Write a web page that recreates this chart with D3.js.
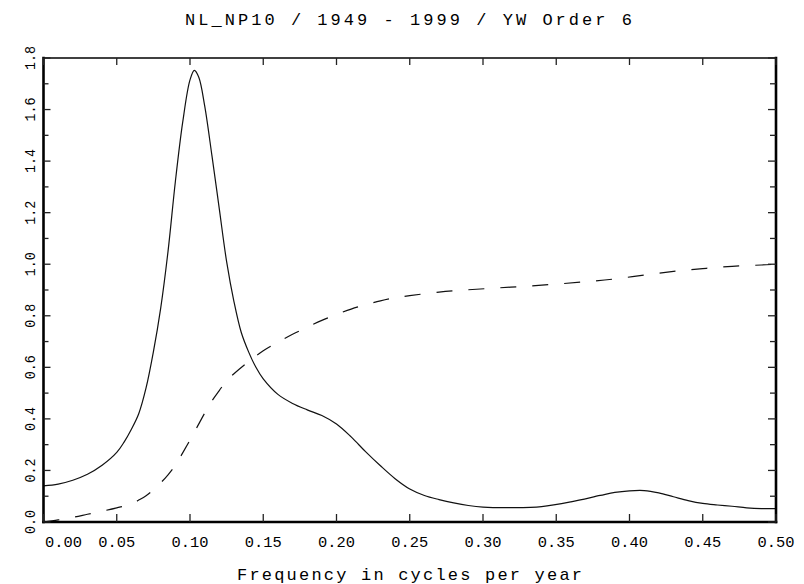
<!DOCTYPE html>
<html>
<head>
<meta charset="utf-8">
<script src="https://cdn.jsdelivr.net/npm/d3@7"></script>
<style>
  body { margin: 0; background: #fff; }
  text { font-family: "Liberation Mono", "DejaVu Sans Mono", monospace; fill: #000; }
</style>
</head>
<body>
<div id="chart"></div>
<script>
// ----------------------------------------------------------------------------
// data
// ----------------------------------------------------------------------------
const freq = [0.000, 0.010, 0.020, 0.030, 0.040, 0.050, 0.055, 0.060, 0.065, 0.070,
  0.075, 0.080, 0.085, 0.090, 0.095, 0.100, 0.103, 0.106, 0.110, 0.115,
  0.120, 0.125, 0.130, 0.135, 0.140, 0.145, 0.150, 0.160, 0.170, 0.180,
  0.190, 0.200, 0.210, 0.220, 0.230, 0.240, 0.250, 0.260, 0.270, 0.280,
  0.290, 0.300, 0.320, 0.340, 0.360, 0.380, 0.390, 0.400, 0.410, 0.420, 0.430,
  0.440, 0.450, 0.460, 0.470, 0.480, 0.490, 0.500];
const spectrum = [0.140, 0.147, 0.162, 0.185, 0.220, 0.270, 0.310, 0.360, 0.420, 0.520,
  0.660, 0.830, 1.050, 1.320, 1.550, 1.715, 1.752, 1.725, 1.615, 1.420,
  1.215, 1.010, 0.855, 0.735, 0.660, 0.600, 0.555, 0.495, 0.460, 0.435,
  0.413, 0.380, 0.330, 0.272, 0.218, 0.168, 0.128, 0.103, 0.087, 0.074,
  0.064, 0.058, 0.056, 0.060, 0.078, 0.103, 0.115, 0.121, 0.122, 0.113, 0.098,
  0.083, 0.072, 0.066, 0.061, 0.055, 0.052, 0.052];

const cumFreq = [0.000, 0.010, 0.020, 0.030, 0.040, 0.050, 0.060, 0.065, 0.070, 0.075, 0.080,
  0.085, 0.090, 0.095, 0.100, 0.105, 0.110, 0.115, 0.120, 0.125, 0.130,
  0.140, 0.150, 0.160, 0.170, 0.180, 0.190, 0.200, 0.210, 0.220, 0.230,
  0.240, 0.250, 0.270, 0.290, 0.310, 0.330, 0.350, 0.370, 0.390, 0.410,
  0.430, 0.450, 0.470, 0.490, 0.500];
const cumulative = [0.000, 0.008, 0.018, 0.030, 0.042, 0.055, 0.070, 0.085, 0.102, 0.125, 0.152,
  0.183, 0.220, 0.268, 0.318, 0.370, 0.422, 0.470, 0.510, 0.548, 0.575,
  0.622, 0.664, 0.697, 0.728, 0.756, 0.782, 0.805, 0.826, 0.843, 0.858,
  0.870, 0.878, 0.892, 0.901, 0.908, 0.915, 0.923, 0.932, 0.943, 0.958,
  0.972, 0.983, 0.992, 0.997, 1.000];

const xTicks = [0.00, 0.05, 0.10, 0.15, 0.20, 0.25, 0.30, 0.35, 0.40, 0.45, 0.50];
const yTicks = [0.0, 0.2, 0.4, 0.6, 0.8, 1.0, 1.2, 1.4, 1.6, 1.8];
const yMinor = [0.1, 0.3, 0.5, 0.7, 0.9, 1.1, 1.3, 1.5, 1.7];

const title = 'NL_NP10 / 1949 - 1999 / YW Order 6';
const xTitle = 'Frequency in cycles per year';

// ----------------------------------------------------------------------------
// svg + scales
// ----------------------------------------------------------------------------
const W = 804, H = 584;
const m = {l: 43.5, r: 28, t: 58, b: 62};

const svg = d3.select('#chart').append('svg')
  .attr('width', W).attr('height', H);

const xScale = d3.scaleLinear().domain([0, 0.5]).range([m.l, W - m.r]);
const yScale = d3.scaleLinear().domain([0, 1.8]).range([H - m.b, m.t]);

// title
svg.append('text')
  .attr('x', 408.5).attr('y', 25)
  .attr('text-anchor', 'middle')
  .style('font-size', '17px')
  .attr('textLength', 447).attr('lengthAdjust', 'spacing')
  .text(title);

// ----------------------------------------------------------------------------
// curves
// ----------------------------------------------------------------------------
const line = d3.line()
  .x(d => xScale(d[0]))
  .y(d => yScale(d[1]))
  .curve(d3.curveCatmullRom);

svg.append('path')
  .attr('d', line(freq.map((f, i) => [f, spectrum[i]])))
  .attr('fill', 'none')
  .attr('stroke', '#111')
  .attr('stroke-width', 1.2);

svg.append('path')
  .attr('d', line(cumFreq.map((f, i) => [f, cumulative[i]])))
  .attr('fill', 'none')
  .attr('stroke', '#111')
  .attr('stroke-width', 1.2)
  .attr('stroke-dasharray', '16,16');

// ----------------------------------------------------------------------------
// frame and ticks
// ----------------------------------------------------------------------------
const x0 = xScale(0), x1 = xScale(0.5), y0 = yScale(0), y1 = yScale(1.8);

// top (thin)
svg.append('line').attr('x1', x0).attr('x2', x1).attr('y1', y1).attr('y2', y1)
  .attr('stroke', '#000').attr('stroke-width', 1.5);
// left, bottom, right (thick)
[[x0, y0, x0, y1], [x0, y0, x1, y0], [x1, y0, x1, y1]].forEach(s => {
  svg.append('line')
    .attr('x1', s[0]).attr('y1', s[1]).attr('x2', s[2]).attr('y2', s[3])
    .attr('stroke', '#000').attr('stroke-width', 2.6)
    .attr('stroke-linecap', 'square');
});

const tickG = svg.append('g').attr('stroke', '#222').attr('stroke-width', 1.3);

xTicks.forEach(t => {
  const x = xScale(t);
  tickG.append('line').attr('x1', x).attr('x2', x).attr('y1', y0).attr('y2', y0 - 8);
  tickG.append('line').attr('x1', x).attr('x2', x).attr('y1', y1).attr('y2', y1 + 7);
});

yTicks.forEach(t => {
  const y = yScale(t);
  tickG.append('line').attr('x1', x0).attr('x2', x0 + 7).attr('y1', y).attr('y2', y);
  tickG.append('line').attr('x1', x1).attr('x2', x1 - 8).attr('y1', y).attr('y2', y);
});
yMinor.forEach(t => {
  const y = yScale(t);
  tickG.append('line').attr('x1', x0).attr('x2', x0 + 5).attr('y1', y).attr('y2', y);
  tickG.append('line').attr('x1', x1).attr('x2', x1 - 6).attr('y1', y).attr('y2', y);
});

// tick labels
xTicks.forEach((t, i) => {
  svg.append('text')
    .attr('x', i == 0 ? x0 + 1.5 : xScale(t))
    .attr('y', 547)
    .attr('text-anchor', i == 0 ? 'start' : 'middle')
    .style('font-size', '15.5px')
    .attr('textLength', 37).attr('lengthAdjust', 'spacingAndGlyphs')
    .text(d3.format('.2f')(t));
});

yTicks.forEach(t => {
  svg.append('text')
    .attr('transform', `translate(35,${yScale(t)}) rotate(-90)`)
    .attr('text-anchor', 'middle')
    .style('font-size', '15.5px')
    .attr('textLength', 24).attr('lengthAdjust', 'spacingAndGlyphs')
    .text(d3.format('.1f')(t));
});

// axis title
svg.append('text')
  .attr('x', 409.5).attr('y', 580)
  .attr('text-anchor', 'middle')
  .style('font-size', '17px')
  .attr('textLength', 345).attr('lengthAdjust', 'spacing')
  .text(xTitle);
</script>
</body>
</html>
